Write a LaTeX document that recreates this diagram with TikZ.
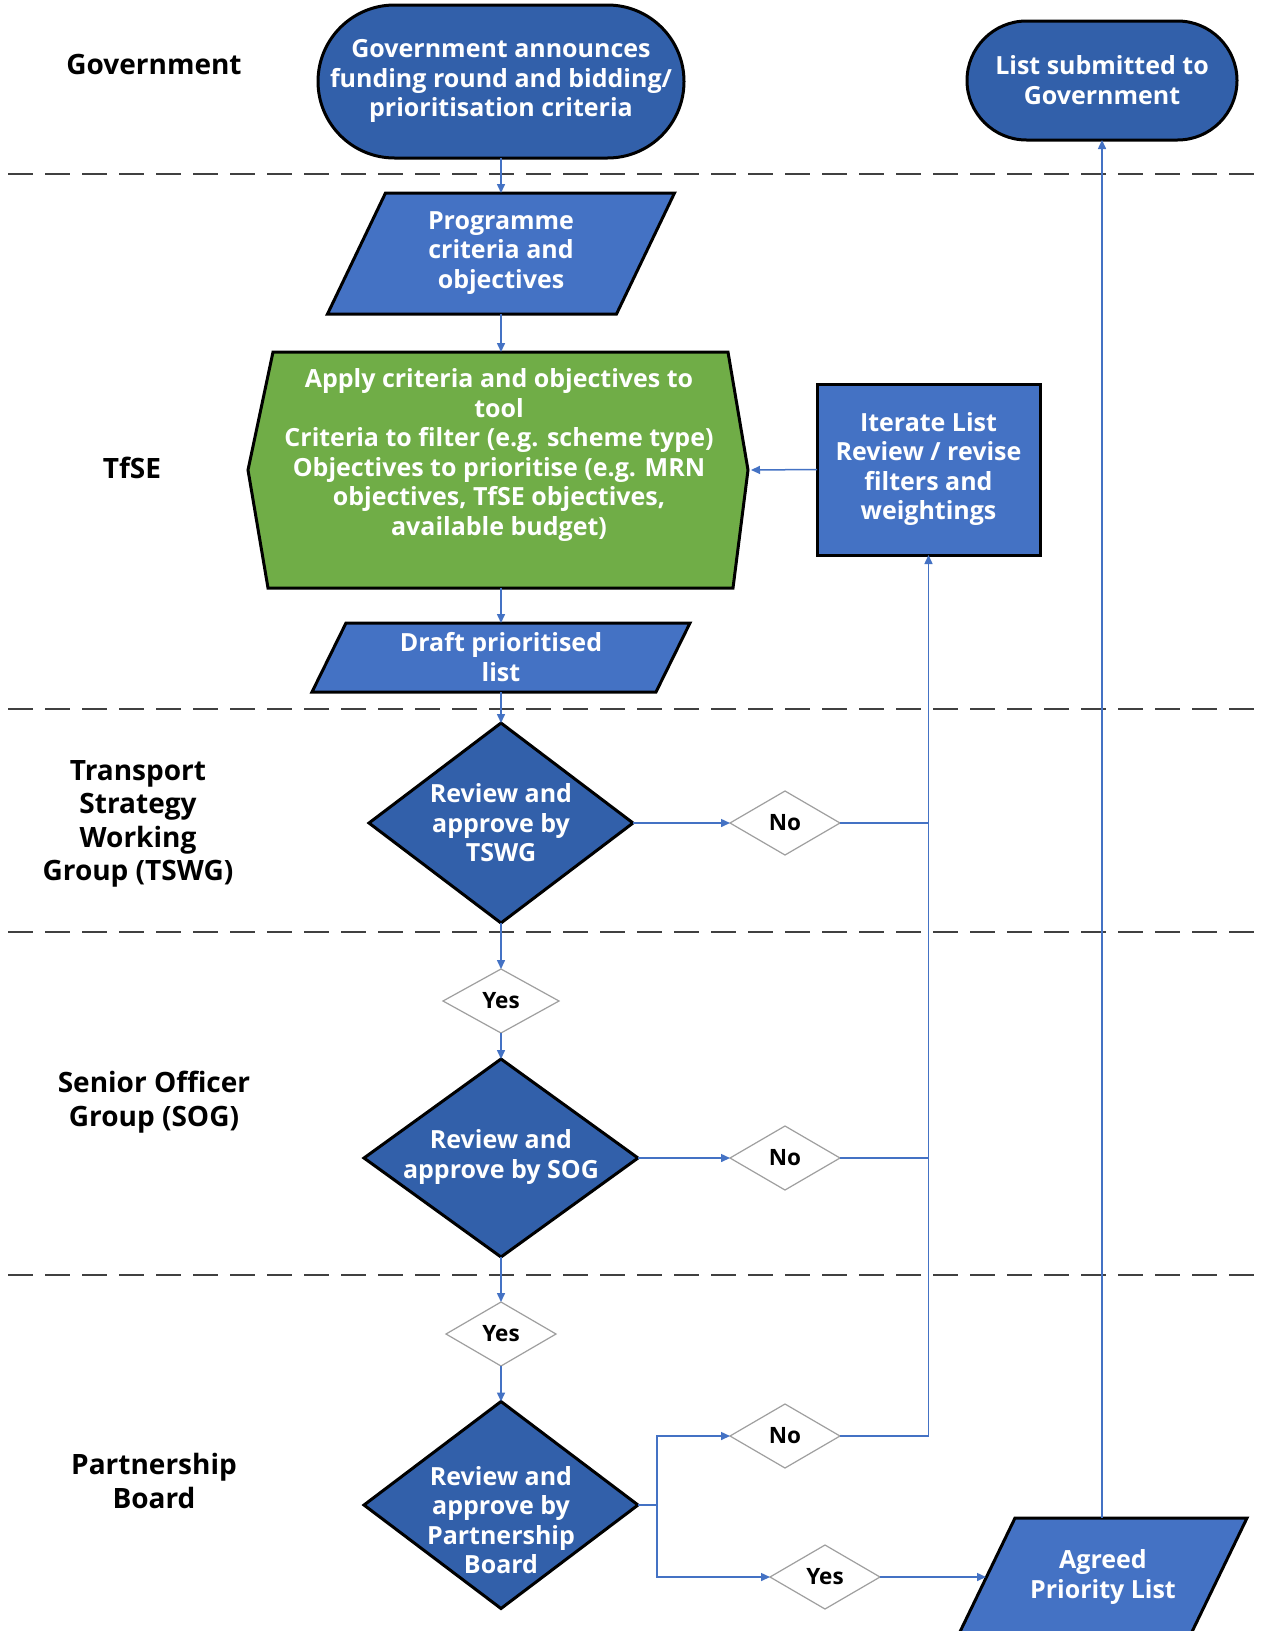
\documentclass[tikz,border=0pt]{standalone}
\usepackage{fontspec}
\setmainfont{Open Sans}
\usetikzlibrary{shapes.geometric,shapes.misc,arrows.meta}
\definecolor{pblue}{HTML}{4472C4}
\definecolor{dblue}{HTML}{3260AA}
\definecolor{pgreen}{HTML}{70AD47}
\definecolor{connc}{HTML}{4472C4}
\definecolor{dashc}{HTML}{404040}
\begin{document}
\begin{tikzpicture}[x=1pt,y=-1pt,
  shapebase/.style={draw=black, line width=3pt, inner sep=0pt, outer sep=0pt},
  term/.style={shapebase, rounded rectangle, fill=dblue},
  dec/.style={shapebase, diamond, fill=dblue},
  anchorbox/.style={rectangle, draw=none, inner sep=0pt, outer sep=0pt, minimum width=1pt},
  smalldec/.style={diamond, draw=gray!75, line width=1.2pt, fill=white, inner sep=0pt, outer sep=0pt, minimum width=110pt, minimum height=64pt},
  wtext/.style={text=white, font=\bfseries\fontsize{25}{29.5}\selectfont, align=center, inner sep=0pt},
  lane/.style={font=\bfseries\fontsize{28}{33.5}\selectfont, align=center, inner sep=0pt},
  ans/.style={font=\bfseries\fontsize{22.5}{24}\selectfont, inner sep=0pt},
  conn/.style={draw=connc, line width=1.5pt},
  arr/.style={conn, -{Triangle[length=9pt,width=8pt]}},
  sepline/.style={draw=dashc, line width=2.5pt, dash pattern=on 25pt off 12pt}
]
\useasboundingbox[fill=white] (0,0) rectangle (1266,1631);

% lane separators
\draw[sepline] (8,174) -- (1259,174);
\draw[sepline] (8,709) -- (1259,709);
\draw[sepline] (8,932) -- (1259,932);
\draw[sepline] (8,1275) -- (1259,1275);

% lane labels
\node[lane] (lgov) at (154,64) {Government};
\node[lane] (ltfse) at (132,468) {TfSE};
\node[lane] (ltswg) at (138,824) {Transport\\Strategy\\Working\\Group (TSWG)};
\node[lane] (lsog) at (154,1102) {Senior Officer\\Group (SOG)};
\node[lane] (lpb) at (154,1481) {Partnership\\Board};

% shapes
\node[term, minimum width=366pt, minimum height=153pt] (gov) at (501,81.5) {};
\node[wtext] (govt) at (501,81) {Government announces\\funding round and bidding/\\prioritisation criteria};

\node[term, minimum width=270pt, minimum height=119pt] (list) at (1102,80.5) {};
\node[wtext] (listt) at (1102,80) {List submitted to\\Government};

\draw[shapebase, fill=pblue] (385.5,193) -- (674.5,193) -- (616.5,314) -- (327.5,314) -- cycle;
\node[anchorbox, minimum height=121pt] (prog) at (501,253.5) {};
\node[wtext] (progt) at (501,253) {Programme\\criteria and\\objectives};

\draw[shapebase, fill=pgreen] (273,352) -- (728,352) -- (748,470) -- (733,588) -- (268,588) -- (248,470) -- cycle;
\node[anchorbox, minimum width=500pt, minimum height=236pt] (apply) at (501,470) {};
\node[wtext] (applyt) at (499,455) {Apply criteria and objectives to\\tool\\Criteria to filter (e.g. scheme type)\\Objectives to prioritise (e.g. MRN\\objectives, TfSE objectives,\\available budget)};

\node[shapebase, rectangle, fill=pblue, minimum width=223pt, minimum height=171pt] (iter) at (928.5,469.5) {};
\node[wtext] (itert) at (928.5,469) {Iterate List\\Review / revise\\filters and\\weightings};

\draw[shapebase, fill=pblue] (346,623) -- (690,623) -- (656,692) -- (312,692) -- cycle;
\node[anchorbox, minimum height=69pt] (draft) at (501,657.5) {};
\node[wtext] (draftt) at (501,657) {Draft prioritised\\list};

\node[dec, minimum width=264pt, minimum height=200pt] (tswg) at (501,823) {};
\node[wtext] (tswgt) at (501,823) {Review and\\approve by\\TSWG};

\node[smalldec] (no1) at (785,823) {};
\node[ans] (no1t) at (785,823) {No};

\node[smalldec, minimum width=116pt] (yes1) at (501,1001) {};
\node[ans] (yes1t) at (501,1001) {Yes};

\node[dec, minimum width=274pt, minimum height=198pt] (sog) at (501,1158) {};
\node[wtext] (sogt) at (501,1157) {Review and\\approve by SOG};

\node[smalldec] (no2) at (785,1158) {};
\node[ans] (no2t) at (785,1158) {No};

\node[smalldec] (yes2) at (501,1334) {};
\node[ans] (yes2t) at (501,1334) {Yes};

\node[dec, minimum width=274pt, minimum height=207pt] (pb) at (501,1505) {};
\node[wtext] (pbt) at (501,1520) {Review and\\approve by\\Partnership\\Board};

\node[smalldec] (no3) at (785,1436) {};
\node[ans] (no3t) at (785,1436) {No};

\node[smalldec] (yes3) at (825,1577) {};
\node[ans] (yes3t) at (825,1577) {Yes};

\draw[shapebase, fill=pblue] (1015,1518) -- (1247,1518) -- (1188,1640) -- (956,1640) -- cycle;
\node[anchorbox, minimum height=122pt] (agreed) at (1102,1579) {};
\coordinate (agreedL) at (986,1577);
\node[wtext] (agreedt) at (1103,1577) {Agreed\\Priority List};

% connectors
\draw[arr] (gov.south) -- (prog.north);
\draw[arr] (prog.south) -- (apply.north);
\draw[arr] (apply.south) -- (draft.north);
\draw[arr] (draft.south) -- (tswg.north);
\draw[arr] (tswg.east) -- (no1.west);
\draw[arr] (tswg.south) -- (yes1.north);
\draw[arr] (yes1.south) -- (sog.north);
\draw[arr] (sog.east) -- (no2.west);
\draw[arr] (sog.south) -- (yes2.north);
\draw[arr] (yes2.south) -- (pb.north);
\coordinate (split) at (657,1505);
\draw[conn] (pb.east) -- (split);
\draw[arr] (split) |- (no3.west);
\draw[arr] (split) |- (yes3.west);
\draw[arr] (no3.east) -| (iter.south);
\draw[conn] (no1.east) -- (no1.east -| iter.south);
\draw[conn] (no2.east) -- (no2.east -| iter.south);
\draw[arr] (iter.west) -- (apply.east);
\draw[arr] (yes3.east) -- (agreedL);
\draw[arr] (agreed.north) -- (list.south);
\end{tikzpicture}
\end{document}
